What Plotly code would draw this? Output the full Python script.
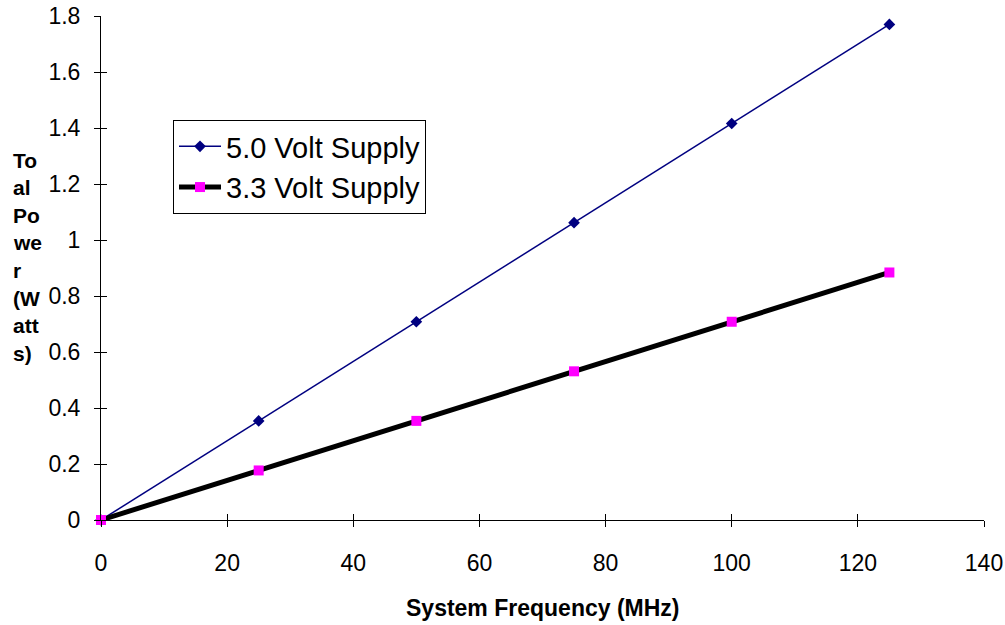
import plotly.graph_objects as go

freq = [0, 25, 50, 75, 100, 125]
power_5v = [0.0, 0.354, 0.708, 1.062, 1.416, 1.770]
power_33v = [0.0, 0.177, 0.354, 0.531, 0.708, 0.884]
series_names = ["5.0 Volt Supply", "3.3 Volt Supply"]
x_title = "System Frequency (MHz)"
y_title_lines = ["To", "al", "Po", "we", "r", "(W", "att", "s)"]
x_ticks = [0, 20, 40, 60, 80, 100, 120, 140]
y_ticks = [0, 0.2, 0.4, 0.6, 0.8, 1.0, 1.2, 1.4, 1.6, 1.8]

FONT = "Liberation Sans, Arial, sans-serif"
W, H = 1005, 625
ML, MR, MT, MB = 101, 21, 16, 105
PW, PH = W - ML - MR, H - MT - MB

fig = go.Figure()
fig.add_trace(go.Scatter(
    x=freq, y=power_5v, name=series_names[0], mode="lines+markers",
    line=dict(color="#000080", width=1.5),
    marker=dict(symbol="diamond", size=9, color="#000080"),
    cliponaxis=False,
))
fig.add_trace(go.Scatter(
    x=freq, y=power_33v, name=series_names[1], mode="lines+markers",
    line=dict(color="#000000", width=5),
    marker=dict(symbol="square", size=10, color="#FF00FF"),
    cliponaxis=False,
))

axis_common = dict(showgrid=False, zeroline=False, showline=True,
                   linecolor="#000000", linewidth=1, automargin=False,
                   ticks="outside", ticklen=6, tickwidth=1, tickcolor="#000000",
                   tickfont=dict(family=FONT, size=23, color="#000000"))

fig.update_layout(
    width=W, height=H,
    margin=dict(l=ML, r=MR, t=MT, b=MB, autoexpand=False),
    paper_bgcolor="white", plot_bgcolor="white",
    xaxis=dict(range=[0, 140], tickvals=x_ticks, ticklabelstandoff=16, **axis_common),
    yaxis=dict(range=[0, 1.8], tickvals=y_ticks, ticklabelstandoff=9, **axis_common),
    xaxis2=dict(range=[0, 140], tickvals=x_ticks, overlaying="x", side="bottom",
                showgrid=False, zeroline=False, showline=False, automargin=False,
                ticks="inside", ticklen=6, tickcolor="#000000",
                showticklabels=False, anchor="y"),
    yaxis2=dict(range=[0, 1.8], tickvals=y_ticks, overlaying="y", side="left",
                showgrid=False, zeroline=False, showline=False, automargin=False,
                ticks="inside", ticklen=6, tickcolor="#000000",
                showticklabels=False, anchor="x"),
    legend=dict(x=(173 - ML) / PW, y=(H - MB - 120) / PH,
                xanchor="left", yanchor="top",
                bgcolor="white", bordercolor="#000000", borderwidth=1,
                font=dict(family=FONT, size=29, color="#000000"),
                itemwidth=42, tracegroupgap=0),
    showlegend=True,
)

# invisible trace so overlay axes (inside tick marks) are drawn
fig.add_trace(go.Scatter(x=[None], y=[None], xaxis="x2", yaxis="y2",
                         showlegend=False, hoverinfo="skip"))

# x-axis title
fig.add_annotation(
    text="<b>" + x_title + "</b>", xref="paper", yref="paper",
    x=0.5, y=(H - MB - 608) / PH, xanchor="center", yanchor="middle",
    showarrow=False, font=dict(family=FONT, size=23, color="#000000"),
)

# wrapped y-axis title
for i, line in enumerate(y_title_lines):
    py = 160 + i * 27.6
    fig.add_annotation(
        text="<b>" + line + "</b>", xref="paper", yref="paper",
        x=(11 - ML) / PW, y=(H - MB - py) / PH,
        xanchor="left", yanchor="middle", showarrow=False,
        font=dict(family=FONT, size=21, color="#000000"),
    )

fig.write_html("out.html")
